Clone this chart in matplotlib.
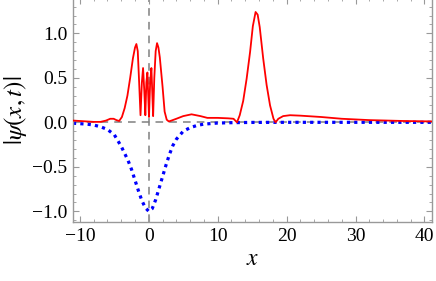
import numpy as np
import matplotlib
matplotlib.use('Agg')
import matplotlib.pyplot as plt
from matplotlib.ticker import MultipleLocator

# values
red_x = [-11.0, -10.0, -9.0, -8.0, -7.0, -6.2, -5.6, -5.1, -4.7, -4.3, -3.9, -3.5,
         -3.1, -2.7, -2.3, -2.0, -1.8, -1.6, -1.4, -1.2, -1.0, -0.83, -0.65, -0.5,
         -0.35, -0.2, -0.08, 0.03, 0.2, 0.38, 0.5, 0.63, 0.8, 1.0, 1.2, 1.4, 1.6,
         2.0, 2.3, 2.6, 2.9, 3.3, 4.0, 5.0, 6.2, 7.5, 8.5, 10.0, 11.5, 12.3, 12.8,
         13.2, 13.7, 14.2, 14.7, 15.1, 15.5, 15.8, 16.1, 16.6, 17.1, 17.6, 18.1,
         18.4, 18.8, 19.5, 20.5, 22.0, 25.0, 28.0, 32.0, 37.0, 41.3]
red_y = [0.02, 0.015, 0.01, 0.005, 0.005, 0.02, 0.04, 0.04, 0.025, 0.015, 0.06, 0.16,
         0.30, 0.50, 0.72, 0.84, 0.88, 0.80, 0.45, 0.08, 0.45, 0.61, 0.35, 0.08,
         0.45, 0.56, 0.30, 0.06, 0.45, 0.61, 0.35, 0.07, 0.50, 0.80, 0.89, 0.84, 0.73,
         0.40, 0.12, 0.03, 0.01, 0.02, 0.04, 0.07, 0.09, 0.07, 0.05, 0.05, 0.045, 0.04, 0.0,
         0.08, 0.24, 0.49, 0.79, 1.08, 1.24, 1.21, 1.07, 0.72, 0.42, 0.19, 0.04,
         0.0, 0.04, 0.07, 0.08, 0.075, 0.06, 0.04, 0.025, 0.015, 0.01]

blue_x = [-11.0, -9.0, -8.0, -7.0, -6.0, -5.0, -4.0, -3.5, -3.0, -2.5, -2.0, -1.5,
          -1.0, -0.5, 0.0, 0.5, 1.0, 1.5, 2.0, 2.5, 3.0, 3.5, 4.0, 5.0, 6.0, 7.0,
          8.0, 10.0, 12.0, 15.0, 20.0, 30.0, 41.3]
blue_y = [-0.01, -0.02, -0.03, -0.05, -0.08, -0.14, -0.27, -0.35, -0.43, -0.53, -0.65, -0.77,
          -0.88, -0.96, -1.0, -0.97, -0.87, -0.74, -0.61, -0.48, -0.36, -0.26, -0.19, -0.10,
          -0.06, -0.035, -0.02, -0.008, -0.004, -0.001, 0.0, 0.0, 0.0]

plt.rcParams['font.family'] = ['Liberation Serif', 'DejaVu Serif']
plt.rcParams['mathtext.fontset'] = 'stix'

fig = plt.figure(figsize=(4.36, 2.81), dpi=100)
ax = fig.add_axes([0.1674, 0.21, 0.8234, 0.798])

frame = '#999999'
ax.axhline(0, color='#808080', ls=(0, (5, 4)), lw=1.1, zorder=1)
ax.axvline(0, color='#808080', ls=(0, (5, 4)), lw=1.1, zorder=1)
ax.plot(blue_x, blue_y, color='#0000ff', ls=(0, (1, 1.3)), lw=2.3, zorder=2)
ax.plot(red_x, red_y, color='#ff0000', lw=1.3, zorder=3)

ax.set_xlim(-11, 41.1)
ax.set_ylim(-1.12, 1.40)

ax.xaxis.set_major_locator(MultipleLocator(10))
ax.xaxis.set_minor_locator(MultipleLocator(2))
ax.yaxis.set_major_locator(MultipleLocator(0.5))
ax.yaxis.set_minor_locator(MultipleLocator(0.1))
ax.yaxis.set_major_formatter(plt.FuncFormatter(lambda v, p: f'{v:.1f}'.replace('-', '\u2212')))

for s in ax.spines.values():
    s.set_color(frame)
    s.set_linewidth(1.0)
ax.tick_params(which='both', direction='in', top=True, right=True, color=frame,
               labelsize=14, labelcolor='black')
ax.tick_params(which='major', length=4, width=0.8, pad=4)
ax.tick_params(which='minor', length=2, width=0.6)

ax.set_xlabel('$x$', fontsize=17, labelpad=3)
ax.set_ylabel(r'$|\psi(x,t)|$', fontsize=18, labelpad=2)

fig.savefig('out.png', dpi=100)
